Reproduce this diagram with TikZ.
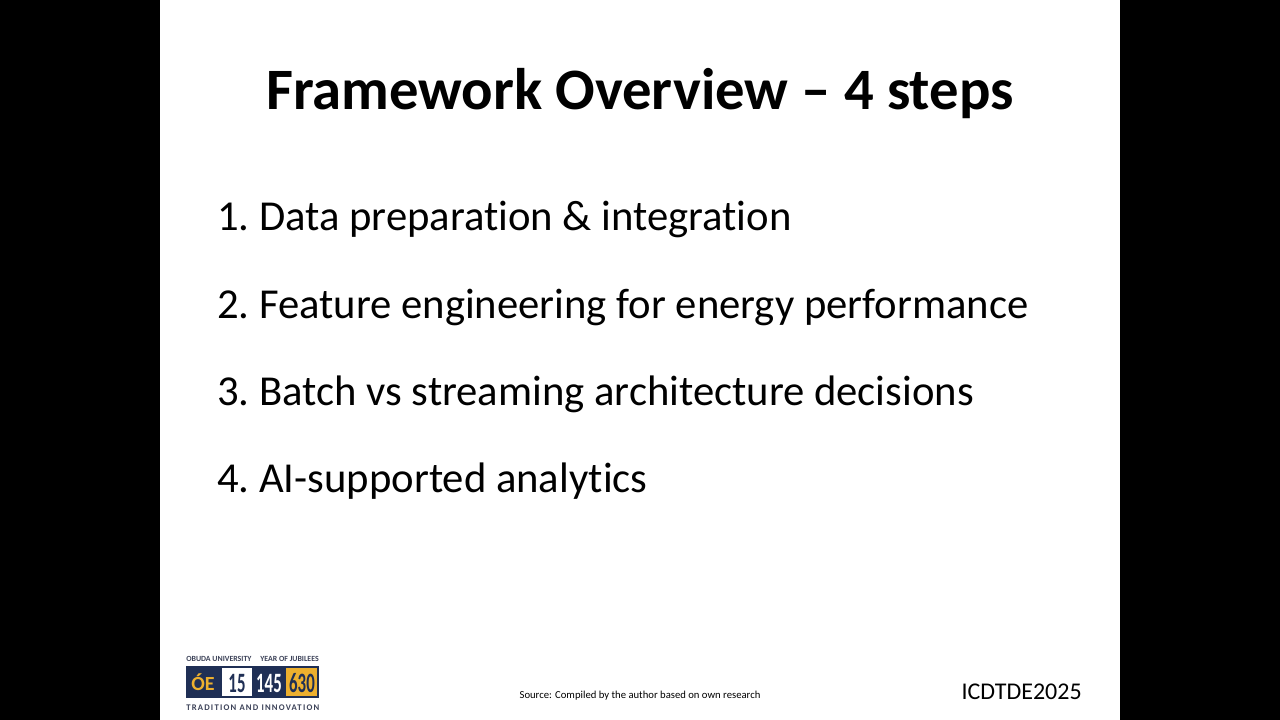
\documentclass[tikz,border=0pt]{standalone}
\usepackage{fontspec}
\setmainfont[Ligatures=NoCommon]{Carlito}
\definecolor{logonavy}{HTML}{1F2F55}
\definecolor{logogold}{HTML}{EDB02F}
\definecolor{logogrey}{HTML}{3C4258}
\newcommand{\stepnum}[1]{\makebox[31.5pt][l]{#1}}
\newcommand{\slimnum}[1]{\scalebox{0.6}[1]{#1}}
\tikzstyle{titletext} = [anchor=base, inner sep=0pt, font=\fontsize{44}{50}\selectfont\bfseries]
\tikzstyle{steptext} = [anchor=base west, inner sep=0pt, font=\fontsize{32}{38}\selectfont]
\tikzstyle{logotext} = [anchor=base west, inner sep=0pt, text=logogrey, font=\fontsize{5.9}{7}\selectfont\bfseries]
\tikzstyle{logonum} = [anchor=center, inner sep=0pt, font=\fontsize{21}{24}\selectfont\bfseries]

\begin{document}
\begin{tikzpicture}[x=0.75pt, y=-0.75pt]
	\useasboundingbox (0,0) rectangle (1280,720);
	\fill [black] (0,0) rectangle (1280,720);
	\fill [white] (160,0) rectangle (1120,720);

	\node [titletext] (title) at (640,110) {Framework Overview – 4 steps};
	\node [steptext] (first) at (217,231) {\stepnum{1.}Data preparation \& integration};
	\node [steptext] (second) at (217,318) {\stepnum{2.}Feature engineering for energy performance};
	\node [steptext] (third) at (217,405) {\stepnum{3.}Batch vs streaming architecture decisions};
	\node [steptext] (fourth) at (217,492) {\stepnum{4.}AI-supported analytics};

	\node [anchor=base, inner sep=0pt, font=\fontsize{8}{10}\selectfont] (source) at (640,698) {Source: Compiled by the author based on own research};
	\node [anchor=base east, inner sep=0pt, font=\fontsize{18}{22}\selectfont] (conf) at (1082,699) {ICDTDE2025};

	% logo
	\fill [logonavy] (186,666) rectangle (319,698);
	\fill [white] (222,668) rectangle (252,696);
	\fill [logogold] (286,668) rectangle (317,696);
	\node [logonum, text=logogold, font=\fontsize{15}{18}\selectfont\bfseries] (oe) at (203,682) {ÓE};
	\node [logonum, text=logonavy] (fifteen) at (237,683) {\slimnum{15}};
	\node [logonum, text=white] (onefive) at (269,683) {\slimnum{145}};
	\node [logonum, text=logonavy] (sixthirty) at (302,683) {\slimnum{630}};
	\node [logotext] (obuda) at (186,661) {OBUDA UNIVERSITY};
	\node [logotext, anchor=base east] (jubilee) at (319,661) {YEAR OF JUBILEES};
	\node [logotext, font=\fontsize{6.5}{8}\selectfont\bfseries\addfontfeatures{LetterSpace=14}] (motto) at (186,710) {TRADITION AND INNOVATION};
\end{tikzpicture}
\end{document}
